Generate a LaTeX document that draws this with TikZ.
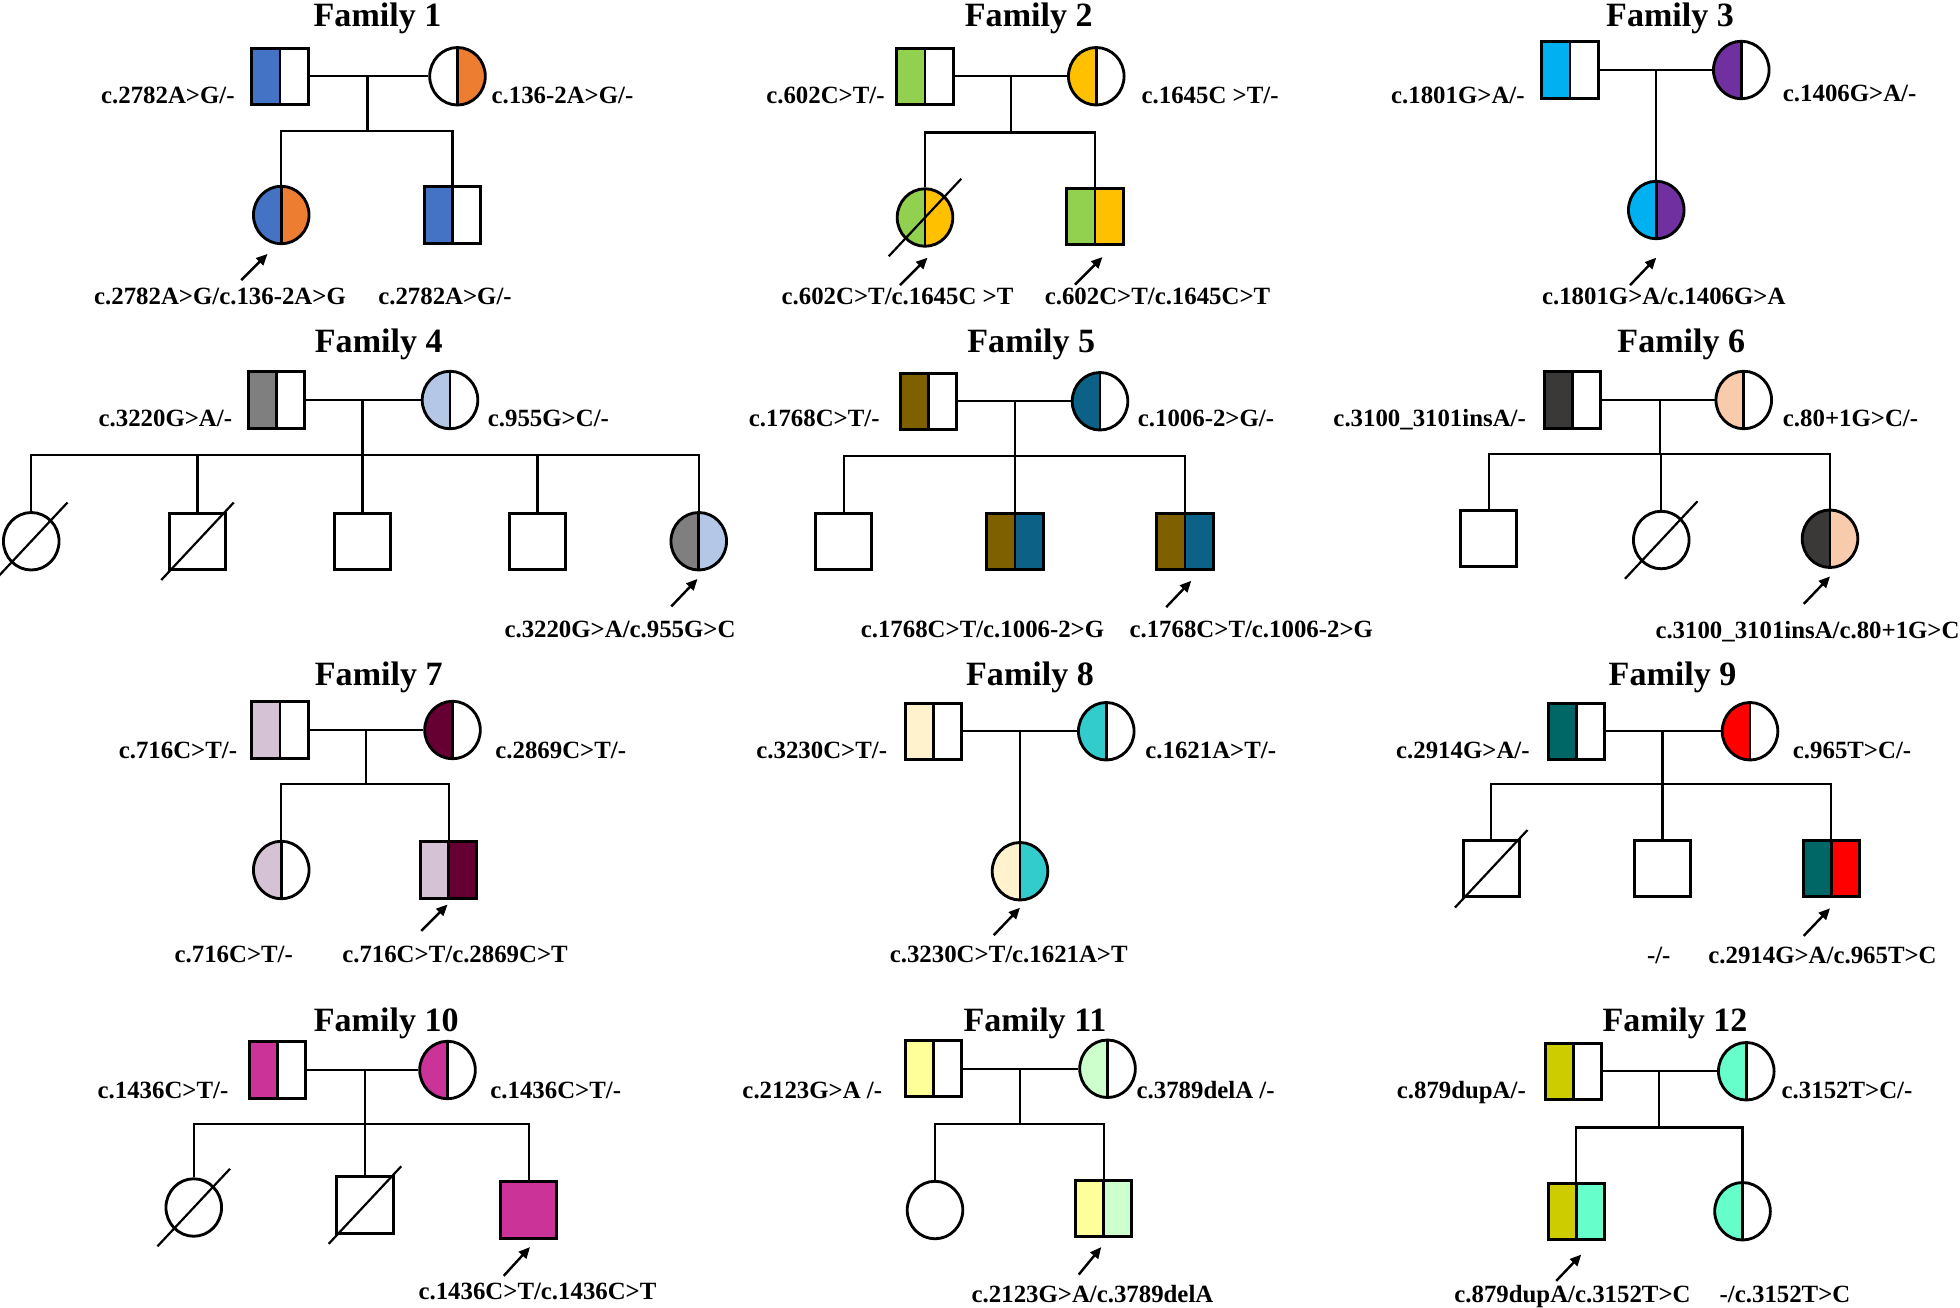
\documentclass[tikz,border=0pt]{standalone}
\usepackage{fontspec}
\setmainfont{Liberation Serif}
\usepackage{xcolor}
\usepackage{tikz}
\usetikzlibrary{arrows.meta,positioning,shapes.geometric}
\definecolor{cblue}{HTML}{4472C4}
\definecolor{corange}{HTML}{ED7D31}
\definecolor{cgreen}{HTML}{92D050}
\definecolor{cgold}{HTML}{FFC000}
\definecolor{ccyan}{HTML}{00B0F0}
\definecolor{cpurple}{HTML}{7030A0}
\definecolor{cgray}{HTML}{7F7F7F}
\definecolor{cice}{HTML}{B4C7E7}
\definecolor{cbrown}{HTML}{7F6000}
\definecolor{cpetrol}{HTML}{0B6286}
\definecolor{cdark}{HTML}{3B3838}
\definecolor{cpeach}{HTML}{F8CBAD}
\definecolor{cmauve}{HTML}{D5C3D5}
\definecolor{cmaroon}{HTML}{660033}
\definecolor{ccream}{HTML}{FFF2CC}
\definecolor{cturq}{HTML}{33CCCC}
\definecolor{cteal}{HTML}{006666}
\definecolor{cred}{HTML}{FF0000}
\definecolor{cmagenta}{HTML}{CC3399}
\definecolor{clemon}{HTML}{FFFF99}
\definecolor{cmint}{HTML}{CCFFCC}
\definecolor{colive}{HTML}{CCCC00}
\definecolor{caqua}{HTML}{66FFCC}

\begin{document}
\begin{tikzpicture}[x=0.02cm,y=-0.02cm,
 link/.style={line width=1pt},
 dead/.style={line width=1pt},
 proband/.style={-{Triangle[length=0.18cm,width=0.16cm]},line width=1.1pt},
 male/.style={draw,rectangle,line width=1.3pt,minimum width=0.9cm,minimum height=0.9cm,inner sep=0pt},
 female/.style={draw,ellipse,line width=1.3pt,minimum width=0.89cm,minimum height=0.92cm,inner sep=0pt},
 halves/.style 2 args={path picture={
   \fill[#1] (path picture bounding box.south west) rectangle (path picture bounding box.north);
   \fill[#2] (path picture bounding box.north east) rectangle (path picture bounding box.south);
   \draw[line width=1.3pt] (path picture bounding box.north) -- (path picture bounding box.south);}},
 title/.style={font=\fontsize{15.5}{18}\selectfont\bfseries,inner sep=0pt,text height=10.5pt,text depth=0pt},
 gt/.style={font=\fontsize{11.3}{13}\selectfont\bfseries,inner sep=0pt,text height=7.5pt,text depth=0pt}]
\useasboundingbox (0,0) rectangle (1568,1046);

% Family 1
\node[title] (t1) at (302,12) {Family 1};
\node[male,halves={cblue}{white}] (f1) at (224,61) {};
\node[female,halves={white}{corange}] (m1) at (366,61) {};
\node[gt,anchor=east] (lf1) at (188,76) {c.2782A>G/-};
\node[gt,anchor=west] (lm1) at (393,76) {c.136-2A>G/-};
\node[female,halves={cblue}{corange}] (p1) at (225,172) {};
\node[male,halves={cblue}{white}] (a1) at (362,172) {};
\coordinate (s1) at (294,105);
\draw[link] (f1) -- (m1) (s1 |- f1) -- (s1);
\draw[link] (p1.north) |- (s1) -| (a1.north);
\draw[proband] ([shift={(-32,28)}]p1.south) -- +(21,-21);
\node[gt] (lp1) at (176,237) {c.2782A>G/c.136-2A>G};
\node[gt] (la1) at (356,237) {c.2782A>G/-};

% Family 2
\node[title] (t2) at (823,12) {Family 2};
\node[male,halves={cgreen}{white}] (f2) at (740,61) {};
\node[female,halves={cgold}{white}] (m2) at (877,61) {};
\node[gt,anchor=east] (lf2) at (708,76) {c.602C>T/-};
\node[gt,anchor=west] (lm2) at (913,76) {c.1645C >T/-};
\node[female,halves={cgreen}{cgold}] (p2) at (740,174) {};
\node[male,halves={cgreen}{cgold}] (q2) at (876,173) {};
\coordinate (s2) at (809,106);
\draw[link] (f2) -- (m2) (s2 |- f2) -- (s2);
\draw[link] (p2.north) |- (s2) -| (q2.north);
\draw[proband] ([shift={(-20,30)}]p2.south) -- +(22,-22);
\draw[proband] ([shift={(-16,31)}]q2.south) -- +(22,-22);
\node[gt] (lp2) at (718,237) {c.602C>T/c.1645C >T};
\node[gt] (lq2) at (926,237) {c.602C>T/c.1645C>T};

% Family 3
\node[title] (t3) at (1336,12) {Family 3};
\node[male,halves={ccyan}{white}] (f3) at (1256,56) {};
\node[female,halves={cpurple}{white}] (m3) at (1393,56) {};
\node[gt,anchor=east] (lf3) at (1220,76) {c.1801G>A/-};
\node[gt,anchor=west] (lm3) at (1426,75) {c.1406G>A/-};
\node[female,halves={ccyan}{cpurple}] (p3) at (1325,168) {};
\draw[link] (f3) -- (m3) (p3.north) -- (p3.north |- f3);
\draw[proband] ([shift={(-21,36)}]p3.south) -- +(21,-22);
\node[gt] (lp3) at (1331,237) {c.1801G>A/c.1406G>A};

% Family 4
\node[title] (t4) at (303,273) {Family 4};
\node[male,halves={cgray}{white}] (f4) at (221,320) {};
\node[female,halves={cice}{white}] (m4) at (360,320) {};
\node[gt,anchor=east] (lf4) at (186,335) {c.3220G>A/-};
\node[gt,anchor=west] (lm4) at (390,335) {c.955G>C/-};
\node[female] (a4) at (25,433) {};
\node[male] (b4) at (158,433) {};
\node[male] (c4) at (290,433) {};
\node[male] (d4) at (430,433) {};
\node[female,halves={cgray}{cice}] (p4) at (559,433) {};
\coordinate (s4) at (290,364);
\draw[link] (f4) -- (m4) (s4 |- f4) -- (s4);
\draw[link] (a4.north) |- (s4) -| (p4.north);
\foreach \c in {b4,c4,d4}
  \draw[link] (\c.north) -- (\c.north |- s4);
\draw[proband] ([shift={(-22,28)}]p4.south) -- +(21,-22);
\node[gt] (lp4) at (496,503) {c.3220G>A/c.955G>C};

% Family 5
\node[title] (t5) at (825,273) {Family 5};
\node[male,halves={cbrown}{white}] (f5) at (743,321) {};
\node[female,halves={cpetrol}{white}] (m5) at (880,321) {};
\node[gt,anchor=east] (lf5) at (704,335) {c.1768C>T/-};
\node[gt,anchor=west] (lm5) at (910,335) {c.1006-2>G/-};
\node[male] (a5) at (675,433) {};
\node[male,halves={cbrown}{cpetrol}] (b5) at (812,433) {};
\node[male,halves={cbrown}{cpetrol}] (p5) at (948,433) {};
\coordinate (s5) at (812,365);
\draw[link] (f5) -- (m5) (s5 |- f5) -- (s5);
\draw[link] (a5.north) |- (s5) -| (p5.north) (b5.north) -- (s5);
\draw[proband] ([shift={(-15,29)}]p5.south) -- +(20,-21);
\node[gt] (lb5) at (786,503) {c.1768C>T/c.1006-2>G};
\node[gt] (lp5) at (1001,503) {c.1768C>T/c.1006-2>G};

% Family 6
\node[title] (t6) at (1345,273) {Family 6};
\node[male,halves={cdark}{white}] (f6) at (1258,320) {};
\node[female,halves={cpeach}{white}] (m6) at (1395,320) {};
\node[gt,anchor=east] (lf6) at (1221,335) {c.3100\_3101insA/-};
\node[gt,anchor=west] (lm6) at (1426,335) {c.80+1G>C/-};
\node[male] (a6) at (1191,431) {};
\node[female] (b6) at (1329,432) {};
\node[female,halves={cdark}{cpeach}] (p6) at (1464,431) {};
\coordinate (s6) at (1328,363);
\draw[link] (f6) -- (m6) (s6 |- f6) -- (s6);
\draw[link] (a6.north) |- (s6) -| (p6.north) (b6.north) -- (b6.north |- s6);
\draw[proband] ([shift={(-21,28)}]p6.south) -- +(21,-22);
\node[gt] (lp6) at (1446,504) {c.3100\_3101insA/c.80+1G>C};

% Family 7
\node[title] (t7) at (303,539) {Family 7};
\node[male,halves={cmauve}{white}] (f7) at (224,584) {};
\node[female,halves={cmaroon}{white}] (m7) at (362,584) {};
\node[gt,anchor=east] (lf7) at (190,600) {c.716C>T/-};
\node[gt,anchor=west] (lm7) at (396,600) {c.2869C>T/-};
\node[female,halves={cmauve}{white}] (a7) at (225,696) {};
\node[male,halves={cmauve}{cmaroon}] (p7) at (359,696) {};
\coordinate (s7) at (293,627);
\draw[link] (f7) -- (m7) (s7 |- f7) -- (s7);
\draw[link] (a7.north) |- (s7) -| (p7.north);
\draw[proband] ([shift={(-22,25)}]p7.south) -- +(21,-21);
\node[gt] (la7) at (187,763) {c.716C>T/-};
\node[gt] (lp7) at (364,763) {c.716C>T/c.2869C>T};

% Family 8
\node[title] (t8) at (824,539) {Family 8};
\node[male,halves={ccream}{white}] (f8) at (747,585) {};
\node[female,halves={cturq}{white}] (m8) at (885,585) {};
\node[gt,anchor=east] (lf8) at (710,600) {c.3230C>T/-};
\node[gt,anchor=west] (lm8) at (916,600) {c.1621A>T/-};
\node[female,halves={ccream}{cturq}] (p8) at (816,697) {};
\draw[link] (f8) -- (m8) (p8.north) -- (p8.north |- f8);
\draw[proband] ([shift={(-21,27)}]p8.south) -- +(21,-22);
\node[gt] (lp8) at (807,763) {c.3230C>T/c.1621A>T};

% Family 9
\node[title] (t9) at (1338,539) {Family 9};
\node[male,halves={cteal}{white}] (f9) at (1261,585) {};
\node[female,halves={cred}{white}] (m9) at (1400,585) {};
\node[gt,anchor=east] (lf9) at (1224,600) {c.2914G>A/-};
\node[gt,anchor=west] (lm9) at (1434,600) {c.965T>C/-};
\node[male] (a9) at (1193,695) {};
\node[male] (b9) at (1330,695) {};
\node[male,halves={cteal}{cred}] (p9) at (1465,695) {};
\coordinate (s9) at (1330,627);
\draw[link] (f9) -- (m9) (s9 |- f9) -- (s9);
\draw[link] (a9.north) |- (s9) -| (p9.north) (b9.north) -- (s9);
\draw[proband] ([shift={(-22,30)}]p9.south) -- +(21,-22);
\node[gt] (lb9) at (1327,764) {-/-};
\node[gt] (lp9) at (1458,764) {c.2914G>A/c.965T>C};

% Family 10
\node[title] (t10) at (309,816) {Family 10};
\node[male,halves={cmagenta}{white}] (f10) at (222,856) {};
\node[female,halves={cmagenta}{white}] (m10) at (358,856) {};
\node[gt,anchor=east] (lf10) at (183,872) {c.1436C>T/-};
\node[gt,anchor=west] (lm10) at (392,872) {c.1436C>T/-};
\node[female] (a10) at (155,966) {};
\node[male] (b10) at (292,964) {};
\node[male,fill=cmagenta] (p10) at (423,968) {};
\coordinate (s10) at (292,899);
\draw[link] (f10) -- (m10) (s10 |- f10) -- (s10);
\draw[link] (a10.north) |- (s10) -| (p10.north) (b10.north) -- (s10);
\draw[proband] ([shift={(-20,29)}]p10.south) -- +(21,-23);
\node[gt] (lp10) at (430,1033) {c.1436C>T/c.1436C>T};

% Family 11
\node[title] (t11) at (828,816) {Family 11};
\node[male,halves={clemon}{white}] (f11) at (747,855) {};
\node[female,halves={cmint}{white}] (m11) at (886,855) {};
\node[gt,anchor=east] (lf11) at (706,872) {c.2123G>A /-};
\node[gt,anchor=west] (lm11) at (909,872) {c.3789delA /-};
\node[female] (a11) at (748,968) {};
\node[male,halves={clemon}{cmint}] (p11) at (883,967) {};
\coordinate (s11) at (816,899);
\draw[link] (f11) -- (m11) (s11 |- f11) -- (s11);
\draw[link] (a11.north) |- (s11) -| (p11.north);
\draw[proband] ([shift={(-20,29)}]p11.south) -- +(18,-22);
\node[gt] (lp11) at (874,1035) {c.2123G>A/c.3789delA};

% Family 12
\node[title] (t12) at (1340,816) {Family 12};
\node[male,halves={colive}{white}] (f12) at (1259,857) {};
\node[female,halves={caqua}{white}] (m12) at (1397,857) {};
\node[gt,anchor=east] (lf12) at (1221,872) {c.879dupA/-};
\node[gt,anchor=west] (lm12) at (1425,872) {c.3152T>C/-};
\node[male,halves={colive}{caqua}] (p12) at (1261,969) {};
\node[female,halves={caqua}{white}] (a12) at (1394,969) {};
\coordinate (s12) at (1327,902);
\draw[link] (f12) -- (m12) (s12 |- f12) -- (s12);
\draw[link] (p12.north) |- (s12) -| (a12.north);
\draw[proband] ([shift={(-16,32)}]p12.south) -- +(20,-21);
\node[gt] (lp12) at (1258,1035) {c.879dupA/c.3152T>C};
\node[gt] (la12) at (1428,1035) {-/c.3152T>C};

% Deceased relatives, struck through.
\foreach \n in {p2,a4,b4,b6,a9,a10,b10}
  \draw[dead] ([shift={(-29,31)}]\n.center) -- ([shift={(29,-31)}]\n.center);
\end{tikzpicture}
\end{document}
